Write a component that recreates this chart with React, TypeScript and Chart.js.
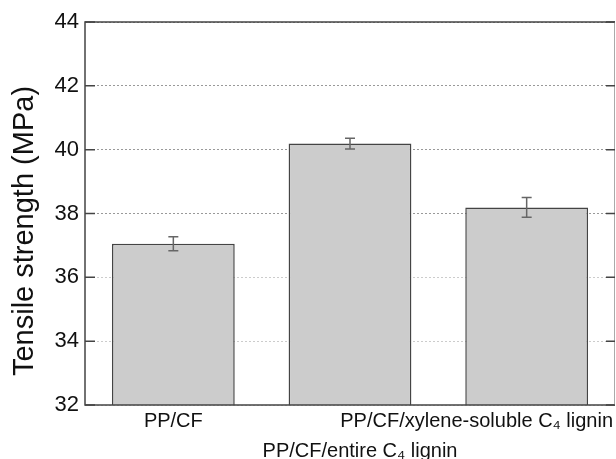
import React, { useEffect, useRef } from "react";
import { Chart, registerables } from "chart.js";

Chart.register(...registerables);

const categories = ["PP/CF", "PP/CF/entire C₄ lignin", "PP/CF/xylene-soluble C₄ lignin"];
const tensileMeans = [37.05, 40.19, 38.19];
const tensileErrors = [0.22, 0.17, 0.31];
const yTicks = [32, 34, 36, 38, 40, 42, 44];
const yTitle = "Tensile strength (MPa)";

const FONT = '"Liberation Sans", Arial, Helvetica, sans-serif';

const framePlugin = {
  id: "frameAndExtras",
  afterDatasetsDraw(chart: any) {
    const ctx = chart.ctx;
    const y = chart.scales.y;
    const meta = chart.getDatasetMeta(0);
    ctx.save();
    ctx.strokeStyle = "#666";
    ctx.lineWidth = 1.5;
    meta.data.forEach((el: any, i: number) => {
      const top = y.getPixelForValue(tensileMeans[i] + tensileErrors[i]);
      const bot = y.getPixelForValue(tensileMeans[i] - tensileErrors[i]);
      ctx.beginPath();
      ctx.moveTo(el.x, top);
      ctx.lineTo(el.x, bot);
      ctx.moveTo(el.x - 5, top);
      ctx.lineTo(el.x + 5, top);
      ctx.moveTo(el.x - 5, bot);
      ctx.lineTo(el.x + 5, bot);
      ctx.stroke();
    });
    ctx.restore();
  },
  afterDraw(chart: any) {
    const ctx = chart.ctx;
    const { left, right, top, bottom } = chart.chartArea;
    const y = chart.scales.y;
    const x = chart.scales.x;
    ctx.save();
    // frame
    ctx.strokeStyle = "#444";
    ctx.lineWidth = 1.5;
    ctx.beginPath();
    ctx.moveTo(right, top);
    ctx.lineTo(left, top);
    ctx.lineTo(left, bottom);
    ctx.lineTo(right, bottom);
    ctx.stroke();
    ctx.strokeStyle = "#aaa";
    ctx.lineWidth = 1;
    ctx.beginPath();
    ctx.moveTo(right - 0.5, top);
    ctx.lineTo(right - 0.5, bottom);
    ctx.stroke();
    // inward ticks
    ctx.strokeStyle = "#444";
    ctx.lineWidth = 1.5;
    yTicks.forEach((v) => {
      const py = y.getPixelForValue(v);
      ctx.beginPath();
      ctx.moveTo(left, py);
      ctx.lineTo(left + 10, py);
      ctx.moveTo(right, py);
      ctx.lineTo(right - 9, py);
      ctx.stroke();
    });
    // x labels (staggered)
    ctx.fillStyle = "#111";
    ctx.font = `20px ${FONT}`;
    ctx.textBaseline = "alphabetic";
    ctx.textAlign = "left";
    categories.forEach((lab, i) => {
      const w = ctx.measureText(lab).width;
      let cx = x.getPixelForValue(i);
      if (i % 2 === 1) cx += 10;
      let lx = cx - w / 2;
      if (lx + w > right - 2) lx = right - 2 - w;
      const by = i % 2 === 1 ? bottom + 52 : bottom + 22;
      ctx.fillText(lab, lx, by);
    });
    // y title
    ctx.font = `29px ${FONT}`;
    ctx.textAlign = "center";
    ctx.translate(33, 231);
    ctx.rotate(-Math.PI / 2);
    ctx.fillText(yTitle, 0, 0);
    ctx.restore();
  },
};

export default function App() {
  const ref = useRef<HTMLCanvasElement | null>(null);
  useEffect(() => {
    document.body.style.margin = "0";
    if (!ref.current) return;
    const chart = new Chart(ref.current, {
      type: "bar",
      data: {
        labels: categories,
        datasets: [
          {
            data: tensileMeans,
            backgroundColor: "#cccccc",
            borderColor: "#444",
            borderWidth: 1.5,
            categoryPercentage: 1,
            barPercentage: 0.695,
          },
        ],
      },
      options: {
        animation: false,
        responsive: false,
        devicePixelRatio: 1,
        layout: { padding: { top: 22, right: 1, left: 0, bottom: 0 } },
        plugins: { legend: { display: false }, tooltip: { enabled: false } },
        scales: {
          x: {
            type: "category",
            grid: { display: false },
            border: { display: false },
            ticks: { display: false },
            afterFit: (s: any) => {
              s.height = 54;
            },
          },
          y: {
            min: 32,
            max: 44,
            afterBuildTicks: (s: any) => {
              s.ticks = yTicks.map((v) => ({ value: v }));
            },
            grid: {
              drawTicks: false,
              lineWidth: 1,
              color: (c: any) => (c.tick && c.tick.value >= 38 ? "#999" : "#ccc"),
            },
            border: { display: false, dash: [2, 2] },
            ticks: {
              padding: 6,
              color: "#111",
              font: { family: FONT, size: 22 },
            },
            afterFit: (s: any) => {
              s.width = 85;
            },
          },
        },
      },
      plugins: [framePlugin],
    });
    return () => chart.destroy();
  }, []);
  return (
    <div style={{ width: 616, height: 459 }}>
      <canvas ref={ref} width={616} height={459} style={{ display: "block" }} />
    </div>
  );
}
